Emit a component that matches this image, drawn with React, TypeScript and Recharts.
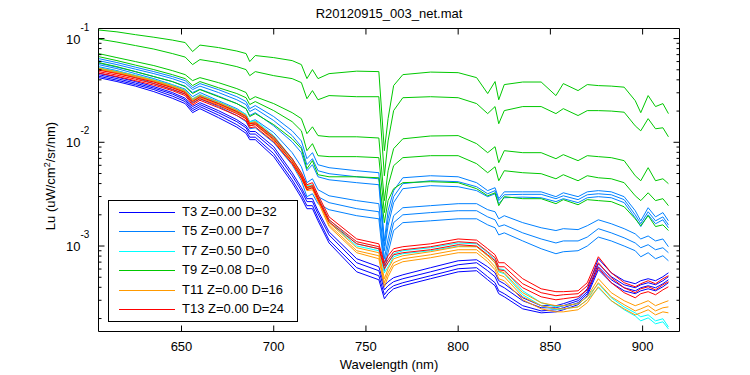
import { Line, LineChart, XAxis, YAxis } from "recharts"

const FONT = '"Liberation Sans", Arial, sans-serif'

const WAVELENGTH = [605, 615, 625, 635, 645, 652, 656, 660, 670, 680, 685, 687, 690, 700, 710, 715, 718, 721, 724, 730, 745, 757, 760, 762, 765, 770, 785, 800, 810, 816, 820, 822, 825, 835, 845, 853, 857, 865, 870, 876, 883, 890, 896, 899, 903, 907, 911, 914]

// T3 Z=0.00 D=32
const t3a = [0.0464, 0.0425, 0.0385, 0.0344, 0.0302, 0.0266, 0.0221, 0.0241, 0.0202, 0.0165, 0.0144, 0.0127, 0.0127, 0.00907, 0.00509, 0.00365, 0.00286, 0.00286, 0.00219, 0.00137, 0.000754, 0.000631, 0.000414, 0.000453, 0.000495, 0.000528, 0.000618, 0.000721, 0.000737, 0.000631, 0.000552, 0.000463, 0.000433, 0.000317, 0.000266, 0.000266, 0.000278, 0.00031, 0.000387, 0.000754, 0.000552, 0.000463, 0.000433, 0.000463, 0.000484, 0.000463, 0.000506, 0.000552]
const t3b = [0.0449, 0.0411, 0.0372, 0.0333, 0.0292, 0.0257, 0.0211, 0.0231, 0.0193, 0.0158, 0.0138, 0.0120, 0.0120, 0.00849, 0.00476, 0.00342, 0.00268, 0.00268, 0.00205, 0.00128, 0.00069, 0.000578, 0.000378, 0.000414, 0.000453, 0.000484, 0.000564, 0.00066, 0.00069, 0.000578, 0.000506, 0.000423, 0.000396, 0.000297, 0.000254, 0.000254, 0.000266, 0.000297, 0.000363, 0.000675, 0.000506, 0.000423, 0.000396, 0.000423, 0.000443, 0.000423, 0.000463, 0.000506]
const t3c = [0.0434, 0.0397, 0.0360, 0.0322, 0.0279, 0.0247, 0.0202, 0.0221, 0.0183, 0.0148, 0.0129, 0.0112, 0.0112, 0.00777, 0.00435, 0.00312, 0.00245, 0.00245, 0.00187, 0.00114, 0.000618, 0.000517, 0.000339, 0.000378, 0.000414, 0.000443, 0.000517, 0.000604, 0.000618, 0.000506, 0.000443, 0.00037, 0.000347, 0.000266, 0.000237, 0.000243, 0.000254, 0.000284, 0.000347, 0.000631, 0.000473, 0.000396, 0.00037, 0.000396, 0.000414, 0.000396, 0.000433, 0.000473]
const t3d = [0.0420, 0.0385, 0.0348, 0.0308, 0.0266, 0.0236, 0.0193, 0.0211, 0.0173, 0.0140, 0.0122, 0.0106, 0.0106, 0.00727, 0.00408, 0.00292, 0.00229, 0.00229, 0.00175, 0.00107, 0.000564, 0.000473, 0.00031, 0.000347, 0.000387, 0.000414, 0.000484, 0.000564, 0.000578, 0.000473, 0.000414, 0.000347, 0.000324, 0.000248, 0.000227, 0.000232, 0.000243, 0.000272, 0.000332, 0.000591, 0.000443, 0.00037, 0.000347, 0.00037, 0.000387, 0.00037, 0.000405, 0.000443]

// T5 Z=0.00 D=7
const t5a = [0.0641, 0.0587, 0.0530, 0.0480, 0.0430, 0.0393, 0.0336, 0.0368, 0.0322, 0.0275, 0.0247, 0.0211, 0.0226, 0.0177, 0.0129, 0.0103, 0.00695, 0.00794, 0.00608, 0.00569, 0.00532, 0.00509, 0.00112, 0.00219, 0.00342, 0.00455, 0.00476, 0.00465, 0.00408, 0.00342, 0.00365, 0.00286, 0.00333, 0.00333, 0.00333, 0.00299, 0.00326, 0.00299, 0.00333, 0.00342, 0.00333, 0.00299, 0.00219, 0.00175, 0.00234, 0.00191, 0.0021, 0.00175]
const t5b = [0.0613, 0.0561, 0.0507, 0.0459, 0.0411, 0.0372, 0.0322, 0.0348, 0.0302, 0.0257, 0.0231, 0.0198, 0.0211, 0.0162, 0.0116, 0.00907, 0.00608, 0.00695, 0.00532, 0.00498, 0.00465, 0.00445, 0.0010, 0.00183, 0.00299, 0.00399, 0.00426, 0.00417, 0.00373, 0.00319, 0.00342, 0.00274, 0.00312, 0.00315, 0.00315, 0.00286, 0.00305, 0.0028, 0.00312, 0.00319, 0.00312, 0.0028, 0.0020, 0.00164, 0.00214, 0.00175, 0.00191, 0.0016]
const t5c = [0.0580, 0.0530, 0.0480, 0.0430, 0.0385, 0.0348, 0.0302, 0.0325, 0.0279, 0.0236, 0.0211, 0.0181, 0.0193, 0.0144, 0.0101, 0.00794, 0.00532, 0.00608, 0.00465, 0.00435, 0.00408, 0.0039, 0.000901, 0.00157, 0.00262, 0.00357, 0.00382, 0.00373, 0.00342, 0.00299, 0.00319, 0.00256, 0.00292, 0.00296, 0.00292, 0.00268, 0.00286, 0.00262, 0.00292, 0.00299, 0.00292, 0.00262, 0.00187, 0.00154, 0.0020, 0.00164, 0.00179, 0.0015]
const t5d = [0.0561, 0.0513, 0.0459, 0.0411, 0.0360, 0.0325, 0.0275, 0.0302, 0.0252, 0.0211, 0.0185, 0.0158, 0.0165, 0.0124, 0.00794, 0.00581, 0.00408, 0.00445, 0.00349, 0.00305, 0.00274, 0.00256, 0.000754, 0.00117, 0.00196, 0.00234, 0.00245, 0.00256, 0.00256, 0.00224, 0.00214, 0.00183, 0.00196, 0.00168, 0.0015, 0.00141, 0.00147, 0.00144, 0.00157, 0.00179, 0.00164, 0.00147, 0.00131, 0.00117, 0.00125, 0.00112, 0.00117, 0.000985]
const t5e = [0.0536, 0.0491, 0.0439, 0.0389, 0.0340, 0.0308, 0.0257, 0.0282, 0.0236, 0.0195, 0.0171, 0.0144, 0.0151, 0.0110, 0.00695, 0.00498, 0.00349, 0.00373, 0.00299, 0.00262, 0.00229, 0.00214, 0.00066, 0.0010, 0.00168, 0.0020, 0.0021, 0.00219, 0.00219, 0.00191, 0.00179, 0.00154, 0.0016, 0.00134, 0.00117, 0.00107, 0.00112, 0.00112, 0.00122, 0.00147, 0.00134, 0.0012, 0.00107, 0.000963, 0.00103, 0.000921, 0.000963, 0.000862]
const t5f = [0.0513, 0.0469, 0.0420, 0.0368, 0.0322, 0.0292, 0.0241, 0.0263, 0.0221, 0.0181, 0.0158, 0.0135, 0.0138, 0.00992, 0.00608, 0.00426, 0.00299, 0.00319, 0.00256, 0.00224, 0.00196, 0.00183, 0.000578, 0.000862, 0.00141, 0.00168, 0.00175, 0.00183, 0.00183, 0.0016, 0.0015, 0.00128, 0.00134, 0.00112, 0.000942, 0.000843, 0.000881, 0.000901, 0.0010, 0.00122, 0.00112, 0.0010, 0.000901, 0.000788, 0.000862, 0.000754, 0.000806, 0.000721]

// T7 Z=0.50 D=0
const t7a = [0.0525, 0.0485, 0.0444, 0.0402, 0.0356, 0.0318, 0.0263, 0.0289, 0.0247, 0.0206, 0.0185, 0.0158, 0.0162, 0.0116, 0.00695, 0.00498, 0.00382, 0.0039, 0.00299, 0.00179, 0.00105, 0.000942, 0.000604, 0.00069, 0.000843, 0.000901, 0.000963, 0.00107, 0.00105, 0.000862, 0.000737, 0.000604, 0.000591, 0.00037, 0.000284, 0.000259, 0.000266, 0.000278, 0.000324, 0.000433, 0.000317, 0.000259, 0.000227, 0.000208, 0.000217, 0.00019, 0.000199, 0.000166]
const t7b = [0.0513, 0.0475, 0.0434, 0.0393, 0.0348, 0.0311, 0.0257, 0.0282, 0.0241, 0.0202, 0.0181, 0.0154, 0.0158, 0.0110, 0.00665, 0.00476, 0.00365, 0.00373, 0.00286, 0.00171, 0.0010, 0.000901, 0.000552, 0.000631, 0.000788, 0.000843, 0.000901, 0.0010, 0.000985, 0.000806, 0.00069, 0.000564, 0.00054, 0.000339, 0.000266, 0.000243, 0.000248, 0.000259, 0.000303, 0.000396, 0.000297, 0.000243, 0.000212, 0.00019, 0.000203, 0.000178, 0.000186, 0.000159]

// T9 Z=0.08 D=0
const t9a = [0.121, 0.116, 0.109, 0.103, 0.0967, 0.0915, 0.0749, 0.0865, 0.0819, 0.0758, 0.0717, 0.0600, 0.0686, 0.0655, 0.0613, 0.0561, 0.0411, 0.0502, 0.0411, 0.0459, 0.0485, 0.0480, 0.0083, 0.0169, 0.0352, 0.0449, 0.0475, 0.0469, 0.0420, 0.0295, 0.0385, 0.0257, 0.0360, 0.0381, 0.0381, 0.0282, 0.0368, 0.0315, 0.0360, 0.0352, 0.0348, 0.0340, 0.0252, 0.0193, 0.0282, 0.0221, 0.0236, 0.0189]
const t9b = [0.0989, 0.0925, 0.0856, 0.0792, 0.0717, 0.0663, 0.0561, 0.0627, 0.0587, 0.0536, 0.0502, 0.0439, 0.0480, 0.0439, 0.0411, 0.0376, 0.0263, 0.0315, 0.0257, 0.0282, 0.0275, 0.0275, 0.00476, 0.0103, 0.0202, 0.0269, 0.0275, 0.0269, 0.0236, 0.0189, 0.0221, 0.0151, 0.0202, 0.0221, 0.0221, 0.0189, 0.0211, 0.0181, 0.0202, 0.0202, 0.0200, 0.0195, 0.0144, 0.0129, 0.0169, 0.0135, 0.0138, 0.0113]
const t9c = [0.0717, 0.0655, 0.0600, 0.0549, 0.0491, 0.0449, 0.0393, 0.0420, 0.0376, 0.0329, 0.0302, 0.0257, 0.0275, 0.0236, 0.0193, 0.0169, 0.0121, 0.0141, 0.0116, 0.0113, 0.0113, 0.0110, 0.00274, 0.00532, 0.00868, 0.0108, 0.0115, 0.0116, 0.0097, 0.00794, 0.00907, 0.00636, 0.0083, 0.00794, 0.00794, 0.00695, 0.0076, 0.00665, 0.00743, 0.00727, 0.00711, 0.00665, 0.00476, 0.00426, 0.00569, 0.00426, 0.00445, 0.00399]
const t9d = [0.0670, 0.0613, 0.0555, 0.0502, 0.0449, 0.0411, 0.0352, 0.0385, 0.0336, 0.0295, 0.0269, 0.0231, 0.0247, 0.0202, 0.0158, 0.0129, 0.0083, 0.0097, 0.00743, 0.00727, 0.00727, 0.00711, 0.0021, 0.00382, 0.00595, 0.00711, 0.00743, 0.00743, 0.00622, 0.00509, 0.00581, 0.00426, 0.00532, 0.00509, 0.00498, 0.00445, 0.00487, 0.00426, 0.00476, 0.00455, 0.00445, 0.00408, 0.00305, 0.00274, 0.00326, 0.00274, 0.00286, 0.00245]
const t9e = [0.0587, 0.0536, 0.0480, 0.0430, 0.0385, 0.0344, 0.0295, 0.0322, 0.0275, 0.0236, 0.0211, 0.0177, 0.0189, 0.0148, 0.0108, 0.00868, 0.00556, 0.00665, 0.00487, 0.00465, 0.00465, 0.00455, 0.00168, 0.00274, 0.00357, 0.00408, 0.00417, 0.00408, 0.00357, 0.00305, 0.00326, 0.00245, 0.00299, 0.00286, 0.00286, 0.00256, 0.0028, 0.0025, 0.0028, 0.00274, 0.00268, 0.00239, 0.00183, 0.00157, 0.00196, 0.00154, 0.0016, 0.00141]

// T11 Z=0.00 D=16
const t11a = [0.0519, 0.0480, 0.0439, 0.0397, 0.0352, 0.0315, 0.0260, 0.0285, 0.0244, 0.0204, 0.0181, 0.0154, 0.0158, 0.0113, 0.0068, 0.00487, 0.00373, 0.00382, 0.00292, 0.00168, 0.000963, 0.000862, 0.000484, 0.000604, 0.000754, 0.000806, 0.000881, 0.000985, 0.000985, 0.000806, 0.00069, 0.000578, 0.000552, 0.000355, 0.000284, 0.000266, 0.000266, 0.000278, 0.000324, 0.000484, 0.000355, 0.000297, 0.000266, 0.000278, 0.000297, 0.000266, 0.000284, 0.000297]
const t11b = [0.0507, 0.0469, 0.0430, 0.0389, 0.0344, 0.0308, 0.0252, 0.0275, 0.0236, 0.0198, 0.0175, 0.0149, 0.0153, 0.0108, 0.0065, 0.00465, 0.00357, 0.00365, 0.0028, 0.0016, 0.000901, 0.000806, 0.000443, 0.000552, 0.00069, 0.000754, 0.000824, 0.000921, 0.000921, 0.000754, 0.000631, 0.000528, 0.000506, 0.000324, 0.000266, 0.000248, 0.000248, 0.000259, 0.000303, 0.000443, 0.000324, 0.000272, 0.000237, 0.000248, 0.000266, 0.000237, 0.000254, 0.000259]
const t11c = [0.0502, 0.0464, 0.0420, 0.0381, 0.0336, 0.0302, 0.0247, 0.0269, 0.0231, 0.0193, 0.0169, 0.0144, 0.0148, 0.0104, 0.00622, 0.00445, 0.00342, 0.00349, 0.00268, 0.00154, 0.000862, 0.000754, 0.000405, 0.000506, 0.000646, 0.000706, 0.000771, 0.000862, 0.000862, 0.000706, 0.000591, 0.000484, 0.000463, 0.000303, 0.000248, 0.000232, 0.000232, 0.000243, 0.000284, 0.000405, 0.000297, 0.000248, 0.000217, 0.000227, 0.000243, 0.000217, 0.000232, 0.000227]

// T13 Z=0.00 D=24
const t13a = [0.0496, 0.0459, 0.0420, 0.0381, 0.0336, 0.0302, 0.0247, 0.0275, 0.0236, 0.0198, 0.0177, 0.0151, 0.0154, 0.0113, 0.00695, 0.00509, 0.0039, 0.00408, 0.00312, 0.00191, 0.00117, 0.00105, 0.00069, 0.000806, 0.000942, 0.000985, 0.00105, 0.00117, 0.00114, 0.000942, 0.000824, 0.00069, 0.00069, 0.000484, 0.000387, 0.000363, 0.000363, 0.00037, 0.000443, 0.000788, 0.000552, 0.000443, 0.000405, 0.000433, 0.000463, 0.000433, 0.000484, 0.000517]
const t13b = [0.0480, 0.0444, 0.0406, 0.0368, 0.0325, 0.0292, 0.0236, 0.0263, 0.0226, 0.0189, 0.0169, 0.0144, 0.0148, 0.0107, 0.0065, 0.00476, 0.00365, 0.00382, 0.00292, 0.00179, 0.0011, 0.000985, 0.000646, 0.000737, 0.000881, 0.000921, 0.000985, 0.0011, 0.00107, 0.000881, 0.000771, 0.000631, 0.000631, 0.000433, 0.000355, 0.000332, 0.000339, 0.000347, 0.000414, 0.00069, 0.000495, 0.000396, 0.000355, 0.000387, 0.000405, 0.000378, 0.000423, 0.000453]
const t13c = [0.0464, 0.0430, 0.0393, 0.0356, 0.0315, 0.0282, 0.0228, 0.0254, 0.0216, 0.0181, 0.0162, 0.0138, 0.0141, 0.0101, 0.00622, 0.00455, 0.00349, 0.00365, 0.0028, 0.00171, 0.00105, 0.000942, 0.000604, 0.00069, 0.000824, 0.000862, 0.000921, 0.00103, 0.0010, 0.000824, 0.000721, 0.000591, 0.000578, 0.000396, 0.000324, 0.000303, 0.00031, 0.000324, 0.000378, 0.000618, 0.000443, 0.000355, 0.000317, 0.000347, 0.000363, 0.000339, 0.000378, 0.000405]

const BLUE = "#0000FF"
const SKY = "#0080FF"
const CYAN = "#00FFFF"
const GREEN = "#00C800"
const ORANGE = "#FF9900"
const RED = "#FF0000"

const LEGEND = [
    { label: "T3 Z=0.00 D=32", color: BLUE },
    { label: "T5 Z=0.00 D=7", color: SKY },
    { label: "T7 Z=0.50 D=0", color: CYAN },
    { label: "T9 Z=0.08 D=0", color: GREEN },
    { label: "T11 Z=0.00 D=16", color: ORANGE },
    { label: "T13 Z=0.00 D=24", color: RED },
]

// drawn in this order, last on top (same as the original plot order)
const CASTS = [
    { key: "t3a", color: BLUE, values: t3a },
    { key: "t3b", color: BLUE, values: t3b },
    { key: "t3c", color: BLUE, values: t3c },
    { key: "t3d", color: BLUE, values: t3d },
    { key: "t5a", color: SKY, values: t5a },
    { key: "t5b", color: SKY, values: t5b },
    { key: "t5c", color: SKY, values: t5c },
    { key: "t5d", color: SKY, values: t5d },
    { key: "t5e", color: SKY, values: t5e },
    { key: "t5f", color: SKY, values: t5f },
    { key: "t7a", color: CYAN, values: t7a },
    { key: "t7b", color: CYAN, values: t7b },
    { key: "t9a", color: GREEN, values: t9a },
    { key: "t9b", color: GREEN, values: t9b },
    { key: "t9c", color: GREEN, values: t9c },
    { key: "t9d", color: GREEN, values: t9d },
    { key: "t9e", color: GREEN, values: t9e },
    { key: "t11a", color: ORANGE, values: t11a },
    { key: "t11b", color: ORANGE, values: t11b },
    { key: "t11c", color: ORANGE, values: t11c },
    { key: "t13a", color: RED, values: t13a },
    { key: "t13b", color: RED, values: t13b },
    { key: "t13c", color: RED, values: t13c },
]

const X_TICKS = [650, 700, 750, 800, 850, 900]
const Y_MAJOR = [0.001, 0.01, 0.1]
const Y_MINOR = [0.0002, 0.0003, 0.0004, 0.0005, 0.0006, 0.0007, 0.0008, 0.0009, 0.002, 0.003, 0.004, 0.005, 0.006, 0.007, 0.008, 0.009, 0.02, 0.03, 0.04, 0.05, 0.06, 0.07, 0.08, 0.09]
const Y_TICKS = [...Y_MINOR, ...Y_MAJOR]
const X_DOMAIN = [605, 920]
const Y_DOMAIN = [1.5e-4, 0.125]

const rows = WAVELENGTH.map((wl, i) => {
    const row: Record<string, number> = { wl }
    CASTS.forEach(c => { row[c.key] = c.values[i] })
    return row
})

function BottomTick(props: any) {
    const { x, y, payload } = props
    return (
        <g>
            <line x1={x} x2={x} y1={y} y2={y - 6} stroke="#000" />
            <text x={x} y={y + 19} textAnchor="middle" fontSize={13} fontFamily={FONT} fill="#000">{payload.value}</text>
        </g>
    )
}

function TopTick(props: any) {
    const { x, y } = props
    return <line x1={x} x2={x} y1={y} y2={y + 6} stroke="#000" />
}

function LeftTick(props: any) {
    const { x, y, payload } = props
    const major = Y_MAJOR.includes(payload.value)
    return (
        <g>
            <line x1={x} x2={x + (major ? 6 : 3)} y1={y} y2={y} stroke="#000" />
            {major && (
                <>
                    <text x={x - 18} y={y + 5} textAnchor="end" fontSize={13} fontFamily={FONT} fill="#000">10</text>
                    <text x={x - 18} y={y - 8} fontSize={10} fontFamily={FONT} fill="#000">
                        {Math.round(Math.log10(payload.value))}
                    </text>
                </>
            )}
        </g>
    )
}

function RightTick(props: any) {
    const { x, y, payload } = props
    const major = Y_MAJOR.includes(payload.value)
    return <line x1={x} x2={x - (major ? 6 : 3)} y1={y} y2={y} stroke="#000" />
}

export default function App() {
    return (
        <div style={{ position: "absolute", left: 0, top: 0, width: 750, height: 375, background: "#fff", fontFamily: FONT }}>
            <LineChart
                width={750}
                height={375}
                data={rows}
                margin={{ top: 18.5, right: 60.5, bottom: 13.5, left: 38.5 }}
            >
                <XAxis
                    dataKey="wl" type="number" domain={X_DOMAIN} ticks={X_TICKS} interval={0}
                    allowDataOverflow height={30} tickSize={0} tickMargin={0} tickLine={false}
                    axisLine={{ stroke: "#000" }} tick={BottomTick}
                />
                <XAxis
                    xAxisId="top" orientation="top" dataKey="wl" type="number" domain={X_DOMAIN}
                    ticks={X_TICKS} interval={0} allowDataOverflow height={10} tickSize={0} tickMargin={0}
                    tickLine={false} axisLine={{ stroke: "#000" }} tick={TopTick}
                />
                <YAxis
                    scale="log" type="number" domain={Y_DOMAIN} ticks={Y_TICKS} interval={0}
                    allowDataOverflow width={60} tickSize={0} tickMargin={0} tickLine={false}
                    axisLine={{ stroke: "#000" }} tick={LeftTick}
                />
                <YAxis
                    yAxisId="right" orientation="right" scale="log" type="number" domain={Y_DOMAIN}
                    ticks={Y_TICKS} interval={0} allowDataOverflow width={10} tickSize={0} tickMargin={0}
                    tickLine={false} axisLine={{ stroke: "#000" }} tick={RightTick}
                />
                {CASTS.map(c => (
                    <Line
                        key={c.key}
                        dataKey={c.key}
                        type="linear"
                        stroke={c.color}
                        strokeWidth={1}
                        dot={false}
                        activeDot={false}
                        isAnimationActive={false}
                    />
                ))}
            </LineChart>

            <div style={{ position: "absolute", left: 98.5, width: 581, top: 5.5, textAlign: "center", fontSize: 13, lineHeight: "16px" }}>
                R20120915_003_net.mat
            </div>
            <div style={{ position: "absolute", left: 98.5, width: 581, top: 357, textAlign: "center", fontSize: 13, lineHeight: "16px" }}>
                Wavelength (nm)
            </div>
            <div style={{
                position: "absolute", left: 51 - 100, top: 175.5 - 8, width: 200, height: 16,
                transform: "rotate(-90deg)", textAlign: "center", fontSize: 13, lineHeight: "16px", whiteSpace: "nowrap"
            }}>
                Lu (uW/cm<sup style={{ fontSize: 9, lineHeight: 0 }}>2</sup>/sr/nm)
            </div>

            <div style={{
                position: "absolute", left: 108, top: 200, width: 190, height: 122, boxSizing: "border-box",
                border: "1px solid #000", background: "#fff", fontSize: 13
            }}>
                {LEGEND.map((e, i) => {
                    const cy = Math.round(11 + i * 19.4)
                    return (
                        <div key={e.label}>
                            <div style={{ position: "absolute", left: 10, top: cy, width: 56, height: 1, background: e.color }} />
                            <div style={{ position: "absolute", left: 73, top: cy - 8, lineHeight: "16px", whiteSpace: "nowrap" }}>{e.label}</div>
                        </div>
                    )
                })}
            </div>
        </div>
    )
}
